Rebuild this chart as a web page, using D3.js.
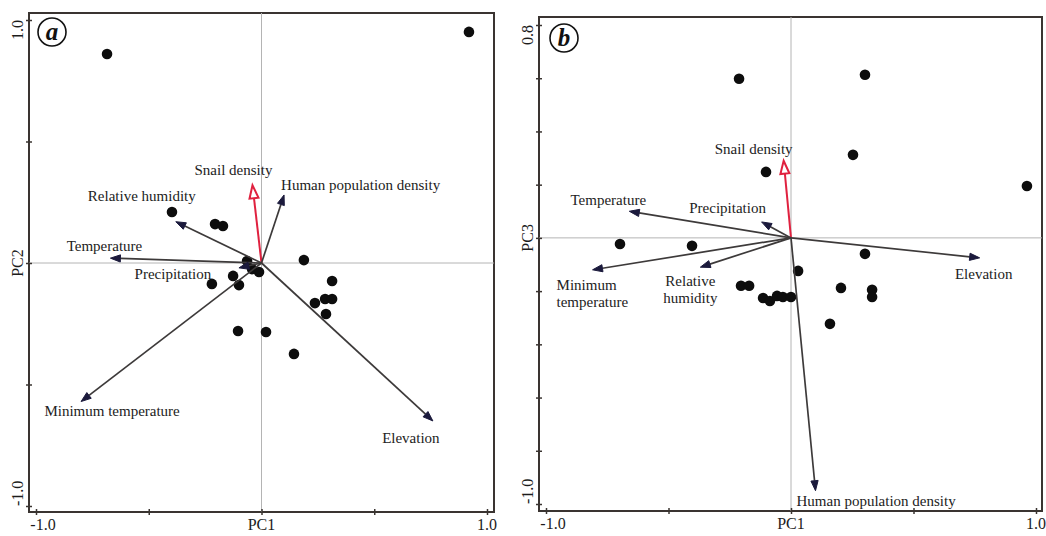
<!DOCTYPE html>
<html>
<head>
<meta charset="utf-8">
<script src="https://cdn.jsdelivr.net/npm/d3@7"></script>
<style>
  html, body { margin: 0; padding: 0; background: #fff; }
  svg { display: block; font-family: "Liberation Serif", "Times New Roman", serif; }
</style>
</head>
<body>
<svg id="chart" width="1046" height="536"></svg>
<script>
// environmental variables (biplot arrows)
const varNames = ['Snail density', 'Human population density', 'Relative humidity',
  'Temperature', 'Precipitation', 'Minimum temperature', 'Elevation'];

// panel a : PC1 / PC2 loadings
const loadA_pc1 = [-0.04, 0.10, -0.38, -0.67, -0.10, -0.80, 0.76];
const loadA_pc2 = [0.32, 0.28, 0.17, 0.02, -0.02, -0.57, -0.65];

// panel b : PC1 / PC3 loadings
const loadB_pc1 = [-0.03, 0.10, -0.37, -0.66, -0.12, -0.81, 0.77];
const loadB_pc3 = [0.29, -0.95, -0.11, 0.10, 0.06, -0.12, -0.075];

// sampling sites scores
const siteA_pc1 = [-0.685, 0.92, -0.397, -0.206, -0.171, -0.064, -0.042, -0.011, -0.126, -0.10,
  -0.22, -0.104, 0.02, 0.188, 0.313, 0.237, 0.282, 0.313, 0.286, 0.144];
const siteA_pc2 = [0.86, 0.951, 0.21, 0.16, 0.152, 0.008, -0.025, -0.037, -0.053, -0.091,
  -0.086, -0.28, -0.284, 0.012, -0.074, -0.165, -0.148, -0.148, -0.21, -0.374];

const siteB_pc1 = [-0.212, 0.302, 0.253, -0.102, 0.963, -0.698, -0.404, -0.204, -0.171, -0.114,
  -0.086, -0.057, -0.033, 0.0, 0.029, 0.302, 0.204, 0.331, 0.331, 0.159];
const siteB_pc3 = [0.598, 0.613, 0.312, 0.248, 0.195, -0.023, -0.03, -0.18, -0.18, -0.226,
  -0.237, -0.218, -0.222, -0.222, -0.124, -0.06, -0.188, -0.195, -0.222, -0.323];

const xTicks = [-1, -0.5, 0, 0.5, 1];
const yTicksA = [-1, -0.5, 0, 0.5, 1];
const yTicksB = [-1, -0.8, -0.6, -0.4, -0.2, 0, 0.2, 0.4, 0.6, 0.8];

const svg = d3.select('#chart');
const frameColor = '#3a3431';
const lineColor = '#3d3a3a';
const headColor = '#1b1a3c';
const red = '#e0213f';

function drawPanel(p) {
  const g = svg.append('g');
  const x = d3.scaleLinear().domain([-1, 1]).range(p.xRange);
  const y = d3.scaleLinear().domain(p.yDomain).range(p.yRange);

  // frame
  g.append('rect')
    .attr('x', p.box[0]).attr('y', p.box[1])
    .attr('width', p.box[2] - p.box[0]).attr('height', p.box[3] - p.box[1])
    .attr('fill', 'none').attr('stroke', frameColor).attr('stroke-width', 2);

  // zero lines
  g.append('line')
    .attr('x1', x(0)).attr('x2', x(0)).attr('y1', p.box[1]).attr('y2', p.box[3])
    .attr('stroke', '#b4b4b4').attr('stroke-width', 1);
  g.append('line')
    .attr('x1', p.box[0]).attr('x2', p.box[2]).attr('y1', y(0)).attr('y2', y(0))
    .attr('stroke', '#b4b4b4').attr('stroke-width', 1);

  // ticks crossing the axes
  const gx = g.append('g')
    .attr('transform', `translate(0,${p.box[3] - 3})`)
    .call(d3.axisBottom(x).tickValues(xTicks).tickSize(6).tickFormat(''));
  const gy = g.append('g')
    .attr('transform', `translate(${p.box[0] + 3},0)`)
    .call(d3.axisLeft(y).tickValues(p.yTicks).tickSize(6).tickFormat(''));
  [gx, gy].forEach(a => {
    a.select('.domain').remove();
    a.selectAll('line').attr('stroke', frameColor).attr('stroke-width', 1.5);
  });

  // tick labels
  const lab = g.append('g').attr('font-size', 16).attr('fill', '#1c1c1c');
  lab.append('text').attr('x', x(-1) + 7).attr('y', p.box[3] + 18)
    .attr('text-anchor', 'middle').text('-1.0');
  lab.append('text').attr('x', x(1)).attr('y', p.box[3] + 18)
    .attr('text-anchor', 'middle').text('1.0');
  lab.append('text').attr('x', x(0)).attr('y', p.box[3] + 18)
    .attr('text-anchor', 'middle').text('PC1');
  const yl = p.box[0] - 6;
  lab.append('text')
    .attr('transform', `translate(${yl},${y(p.yDomain[1])}) rotate(-90)`)
    .attr('text-anchor', 'end').text(p.yTopLabel);
  lab.append('text')
    .attr('transform', `translate(${yl},${y(p.yDomain[0])}) rotate(-90)`)
    .attr('text-anchor', 'start').text('-1.0');
  lab.append('text')
    .attr('transform', `translate(${yl},${y(0)}) rotate(-90)`)
    .attr('text-anchor', 'middle').text(p.yTitle);

  // sites
  g.append('g').selectAll('circle')
    .data(d3.range(p.sx.length))
    .join('circle')
    .attr('cx', i => x(p.sx[i]))
    .attr('cy', i => y(p.sy[i]))
    .attr('r', 5.3)
    .attr('fill', '#0d0d0d');

  // arrows
  const ox = x(0), oy = y(0);
  varNames.forEach((name, i) => {
    const tx = x(p.lx[i]), ty = y(p.ly[i]);
    const ang = Math.atan2(ty - oy, tx - ox);
    const isSnail = i === 0;
    const hl = isSnail ? 13 : 10, hw = isSnail ? 4.5 : 3.6;
    const bx = tx - hl * Math.cos(ang), by = ty - hl * Math.sin(ang);
    const nx = -Math.sin(ang), ny = Math.cos(ang);
    g.append('line')
      .attr('x1', ox).attr('y1', oy).attr('x2', bx).attr('y2', by)
      .attr('stroke', isSnail ? red : lineColor).attr('stroke-width', isSnail ? 2 : 1.7);
    g.append('path')
      .attr('d', `M${tx},${ty}L${bx + nx * hw},${by + ny * hw}L${bx - nx * hw},${by - ny * hw}Z`)
      .attr('fill', isSnail ? '#fff' : headColor)
      .attr('stroke', isSnail ? red : headColor)
      .attr('stroke-width', isSnail ? 2 : 1)
      .attr('stroke-linejoin', 'miter');

    const L = p.labels[i];
    const t = g.append('text')
      .attr('font-size', 15).attr('fill', '#222')
      .attr('text-anchor', L.anchor);
    L.lines.forEach((ln, k) => {
      t.append('tspan')
        .attr('x', tx + L.dx)
        .attr('y', ty + L.dy + k * 17 + 5)
        .text(ln);
    });
  });

  // panel letter
  g.append('circle').attr('cx', p.letterPos[0]).attr('cy', p.letterPos[1]).attr('r', 14)
    .attr('fill', '#fff').attr('stroke', '#111').attr('stroke-width', 1.6);
  g.append('text').attr('x', p.letterPos[0]).attr('y', p.letterPos[1] + 8)
    .attr('text-anchor', 'middle').attr('font-size', 25)
    .attr('font-style', 'italic').attr('font-weight', 'bold').attr('fill', '#111')
    .text(p.letter);
}

drawPanel({
  box: [29, 13, 494, 512],
  xRange: [36, 487],
  yDomain: [-1, 1], yRange: [506, 20],
  yTicks: yTicksA, yTopLabel: '1.0', yTitle: 'PC2',
  sx: siteA_pc1, sy: siteA_pc2,
  lx: loadA_pc1, ly: loadA_pc2,
  letter: 'a', letterPos: [52, 32],
  labels: [
    {lines: ['Snail density'], anchor: 'middle', dx: -19, dy: -15},
    {lines: ['Human population density'], anchor: 'start', dx: -3, dy: -10},
    {lines: ['Relative humidity'], anchor: 'middle', dx: -34, dy: -26},
    {lines: ['Temperature'], anchor: 'middle', dx: -6, dy: -12},
    {lines: ['Precipitation'], anchor: 'middle', dx: -66, dy: 6},
    {lines: ['Minimum temperature'], anchor: 'middle', dx: 31, dy: 9},
    {lines: ['Elevation'], anchor: 'middle', dx: -22, dy: 17}
  ]
});

drawPanel({
  box: [539, 17, 1042, 511],
  xRange: [546, 1036],
  yDomain: [-1, 0.8], yRange: [504, 25],
  yTicks: yTicksB, yTopLabel: '0.8', yTitle: 'PC3',
  sx: siteB_pc1, sy: siteB_pc3,
  lx: loadB_pc1, ly: loadB_pc3,
  letter: 'b', letterPos: [564, 38],
  labels: [
    {lines: ['Snail density'], anchor: 'middle', dx: -30, dy: -12},
    {lines: ['Human population density'], anchor: 'start', dx: -19, dy: 10},
    {lines: ['Relative', 'humidity'], anchor: 'middle', dx: -10, dy: 14},
    {lines: ['Temperature'], anchor: 'middle', dx: -21, dy: -11},
    {lines: ['Precipitation'], anchor: 'middle', dx: -34, dy: -14},
    {lines: ['Minimum', 'temperature'], anchor: 'start', dx: -36, dy: 15},
    {lines: ['Elevation'], anchor: 'middle', dx: 4, dy: 16}
  ]
});
</script>
</body>
</html>
